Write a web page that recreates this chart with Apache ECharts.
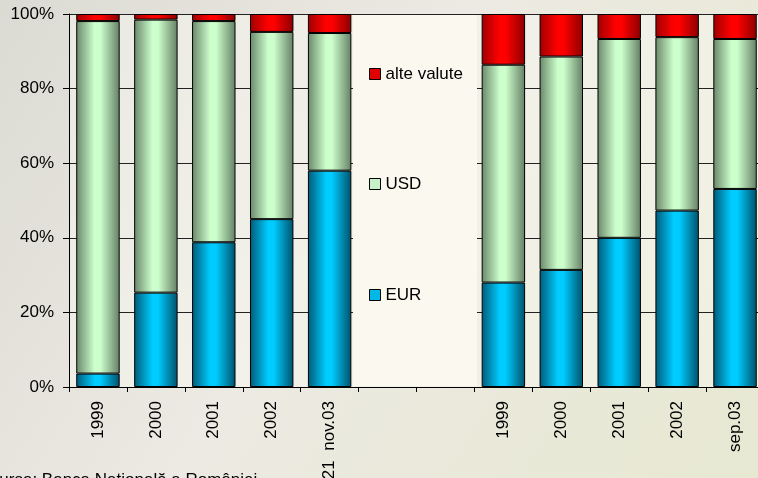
<!DOCTYPE html>
<html>
<head>
<meta charset="utf-8">
<script src="https://cdn.jsdelivr.net/npm/echarts@6/dist/echarts.min.js"></script>
<style>html,body{margin:0;padding:0;}#c{width:758px;height:478px;}</style>
</head>
<body>
<div id="c"></div>
<script>
const categories = ['1999', '2000', '2001', '2002', '21  nov.03', '', ' ', '1999', '2000', '2001', '2002', 'sep.03'];
const eur   = [3.6, 25.3, 38.8, 45.0, 58.0, null, null, 28.0, 31.4, 40.0, 47.3, 53.1];
const usd   = [94.5, 73.2, 59.3, 50.2, 36.9, null, null, 58.4, 57.2, 53.3, 46.5, 40.2];
const other = [1.9, 1.5, 1.9, 4.8, 5.1, null, null, 13.6, 11.4, 6.7, 6.2, 6.7];
const yTicks = [0, 20, 40, 60, 80, 100];
const sourceText = 'Sursa: Banca Naţională a României';

function grad(edgeL, mid, edgeR) {
  return new echarts.graphic.LinearGradient(0, 0, 1, 0, [
    {offset: 0, color: edgeL},
    {offset: 0.42, color: mid},
    {offset: 0.55, color: mid},
    {offset: 1, color: edgeR}
  ]);
}

const chart = echarts.init(document.getElementById('c'));
const font = 'Liberation Sans, Arial, sans-serif';

function legendFor(name, solid, top) {
  return {
    left: 369, top: top, orient: 'vertical', padding: 0,
    itemWidth: 11, itemHeight: 11, selectedMode: false,
    textStyle: {fontFamily: font, fontSize: 17, color: '#000', lineHeight: 18},
    data: [{name: name, icon: 'rect', itemStyle: {color: solid, borderColor: '#000', borderWidth: 1}}]
  };
}

chart.setOption({
  animation: false,
  backgroundColor: new echarts.graphic.LinearGradient(0, 0, 1, 1, [
    {offset: 0, color: '#DCDBD3'},
    {offset: 0.45, color: '#ECEAE2'},
    {offset: 1, color: '#E7E8D2'}
  ]),
  grid: {left: 69, top: 14, bottom: 91, right: -6, show: true, outerBoundsMode: 'none',
         containLabel: false,
         backgroundColor: 'rgba(255,255,250,0.35)', borderWidth: 0},
  graphic: [
    {type: 'rect', z: 1, shape: {x: 353, y: 15, width: 124, height: 371}, style: {fill: '#FAF8EF'}},
    {type: 'text', left: -12, top: 472, z: 5,
     style: {text: sourceText, font: '17px ' + font, fill: '#000'}}
  ],
  legend: [
    legendFor('alte valute', '#E00000', 65),
    legendFor('USD', '#C8F0C8', 175),
    legendFor('EUR', '#00B8E8', 286)
  ],
  xAxis: {
    type: 'category', data: categories,
    axisLine: {lineStyle: {color: '#000', width: 1}},
    axisTick: {show: true, length: 5, lineStyle: {color: '#000'}},
    axisLabel: {rotate: 90, margin: 14, interval: 0, fontFamily: font, fontSize: 17, color: '#000'},
    splitLine: {show: false}
  },
  yAxis: {
    type: 'value', min: yTicks[0], max: yTicks[yTicks.length - 1], interval: 20,
    axisLine: {show: true, lineStyle: {color: '#000', width: 1}},
    axisTick: {show: true, length: 6, lineStyle: {color: '#000'}},
    axisLabel: {margin: 15, fontFamily: font, fontSize: 17, color: '#000', formatter: '{value}%'},
    splitLine: {show: true, lineStyle: {color: '#222', width: 1}}
  },
  series: [
    {name: 'EUR', type: 'bar', stack: 's', data: eur, barCategoryGap: '25%',
     itemStyle: {color: grad('#005A78', '#00CCFF', '#00506A'), borderColor: '#000', borderWidth: 1}},
    {name: 'USD', type: 'bar', stack: 's', data: usd,
     itemStyle: {color: grad('#6A876A', '#CCFFCC', '#657F65'), borderColor: '#000', borderWidth: 1}},
    {name: 'alte valute', type: 'bar', stack: 's', data: other,
     itemStyle: {color: grad('#A00000', '#FF0000', '#8A0000'), borderColor: '#000', borderWidth: 1}}
  ]
});
</script>
</body>
</html>
